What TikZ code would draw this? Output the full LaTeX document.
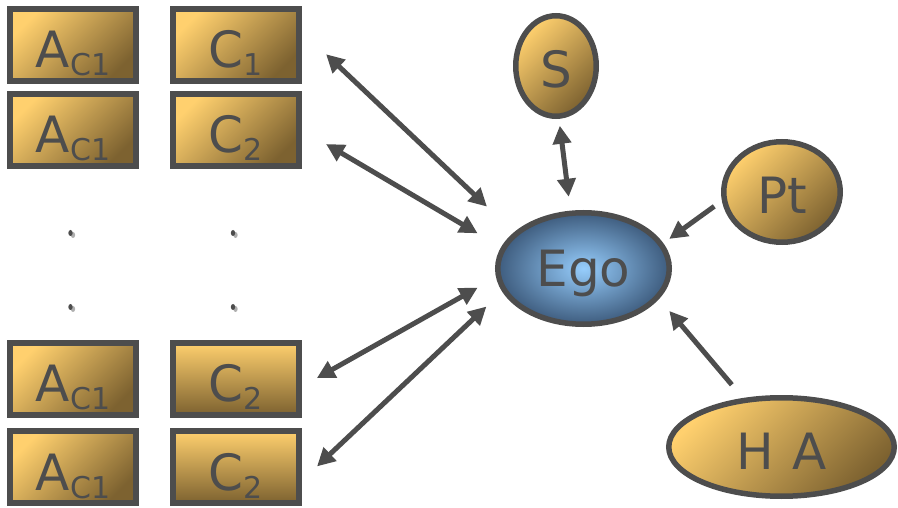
\documentclass[tikz,border=0pt]{standalone}
\usepackage{fontspec}
\setmainfont{DejaVu Sans}
\usetikzlibrary{arrows.meta,shapes.geometric}
\definecolor{ink}{RGB}{77,77,77}
\definecolor{olight}{RGB}{255,208,110}
\definecolor{odark}{RGB}{125,98,48}
\definecolor{blight}{RGB}{150,205,252}
\definecolor{bdark}{RGB}{62,92,126}
\newcommand{\subtx}[1]{\raisebox{-8pt}{\fontsize{30}{36}\selectfont #1}}
\begin{document}
\begin{tikzpicture}[x=1pt,y=1pt,
  boxd/.style={rectangle, minimum width=126pt, minimum height=72pt, inner sep=0pt, outer sep=0pt,
    text=ink, font=\fontsize{50}{60}\selectfont, text height=46pt, text depth=0pt},
  diag/.style={top color=olight, bottom color=odark, shading angle=45},
  vert/.style={top color=olight, bottom color=odark},
  frame/.style={draw=ink, line width=6pt},
  oval/.style={ellipse, draw=ink, line width=5.5pt, inner sep=0pt, outer sep=0pt,
    text=ink, font=\fontsize{50}{60}\selectfont, text height=44pt, text depth=0pt},
  tipA/.tip={Triangle[length=18pt,width=18pt]},
  link/.style={draw=ink, line width=5pt, tipA-tipA},
  onelink/.style={draw=ink, line width=5pt, -tipA},
  dotd/.style={fill=ink},
  dots/.style={fill=ink!45}
]
\useasboundingbox (0,0) rectangle (898,507);

% left boxes
\node[boxd, diag] (a1) at (73,462) {A\subtx{C1}};
\node[boxd, diag] (c1) at (235.5,462) {C\subtx{1}};
\node[boxd, diag] (a2) at (73,377) {A\subtx{C1}};
\node[boxd, diag] (c2) at (235.5,377) {C\subtx{2}};
\node[boxd, diag] (a3) at (73,128.5) {A\subtx{C1}};
\node[boxd, vert] (c3) at (235.5,128.5) {C\subtx{2}};
\node[boxd, diag] (a4) at (73,40) {A\subtx{C1}};
\node[boxd, vert] (c4) at (235.5,40) {C\subtx{2}};
\foreach \n in {a1,c1,a2,c2,a3,c3,a4,c4}
  \draw[frame] (\n.south west) rectangle (\n.north east);

% ellipsis dots
\foreach \x in {70.5,233}{
  \foreach \y in {274,200}{
    \fill[dots] (\x+2.5,\y-2) ellipse (2.2pt and 3pt);
    \fill[dotd] (\x,\y) ellipse (2.2pt and 3pt);
  }
}

% right nodes
\node[oval, diag, minimum width=80.5pt, minimum height=100.5pt] (s) at (556,441) {S};
\node[oval, diag, minimum width=116.5pt, minimum height=100.5pt] (pt) at (782,315) {Pt};
\node[oval, inner color=blight, outer color=bdark, minimum width=171.5pt, minimum height=111.5pt,
  text height=37pt] (ego) at (583.5,238.5) {Ego};
\node[oval, diag, minimum width=225.5pt, minimum height=98.5pt] (ha) at (781.5,60) {H\hspace{3pt} A};

% connectors
\draw[link, shorten <=38pt, shorten >=40pt] (c1.15) -- (ego.153);
\draw[link, shorten <=32pt, shorten >=30pt] (c2.2) -- (ego.166);
\draw[link, shorten <=21pt, shorten >=24pt] (c3.-9) -- (ego.185);
\draw[link, shorten <=25.5pt, shorten >=24.5pt] (c4.-15) -- (ego.195);
\draw[link, shorten <=9.7pt, shorten >=16.7pt] (s.-87) -- (ego.103);
\draw[onelink, shorten <=12.4pt, shorten >=10pt] (pt.187) -- (ego.17);
\draw[onelink, shorten <=20.5pt, shorten >=18.5pt] (ha.128) -- (ego.-21);
\end{tikzpicture}
\end{document}
